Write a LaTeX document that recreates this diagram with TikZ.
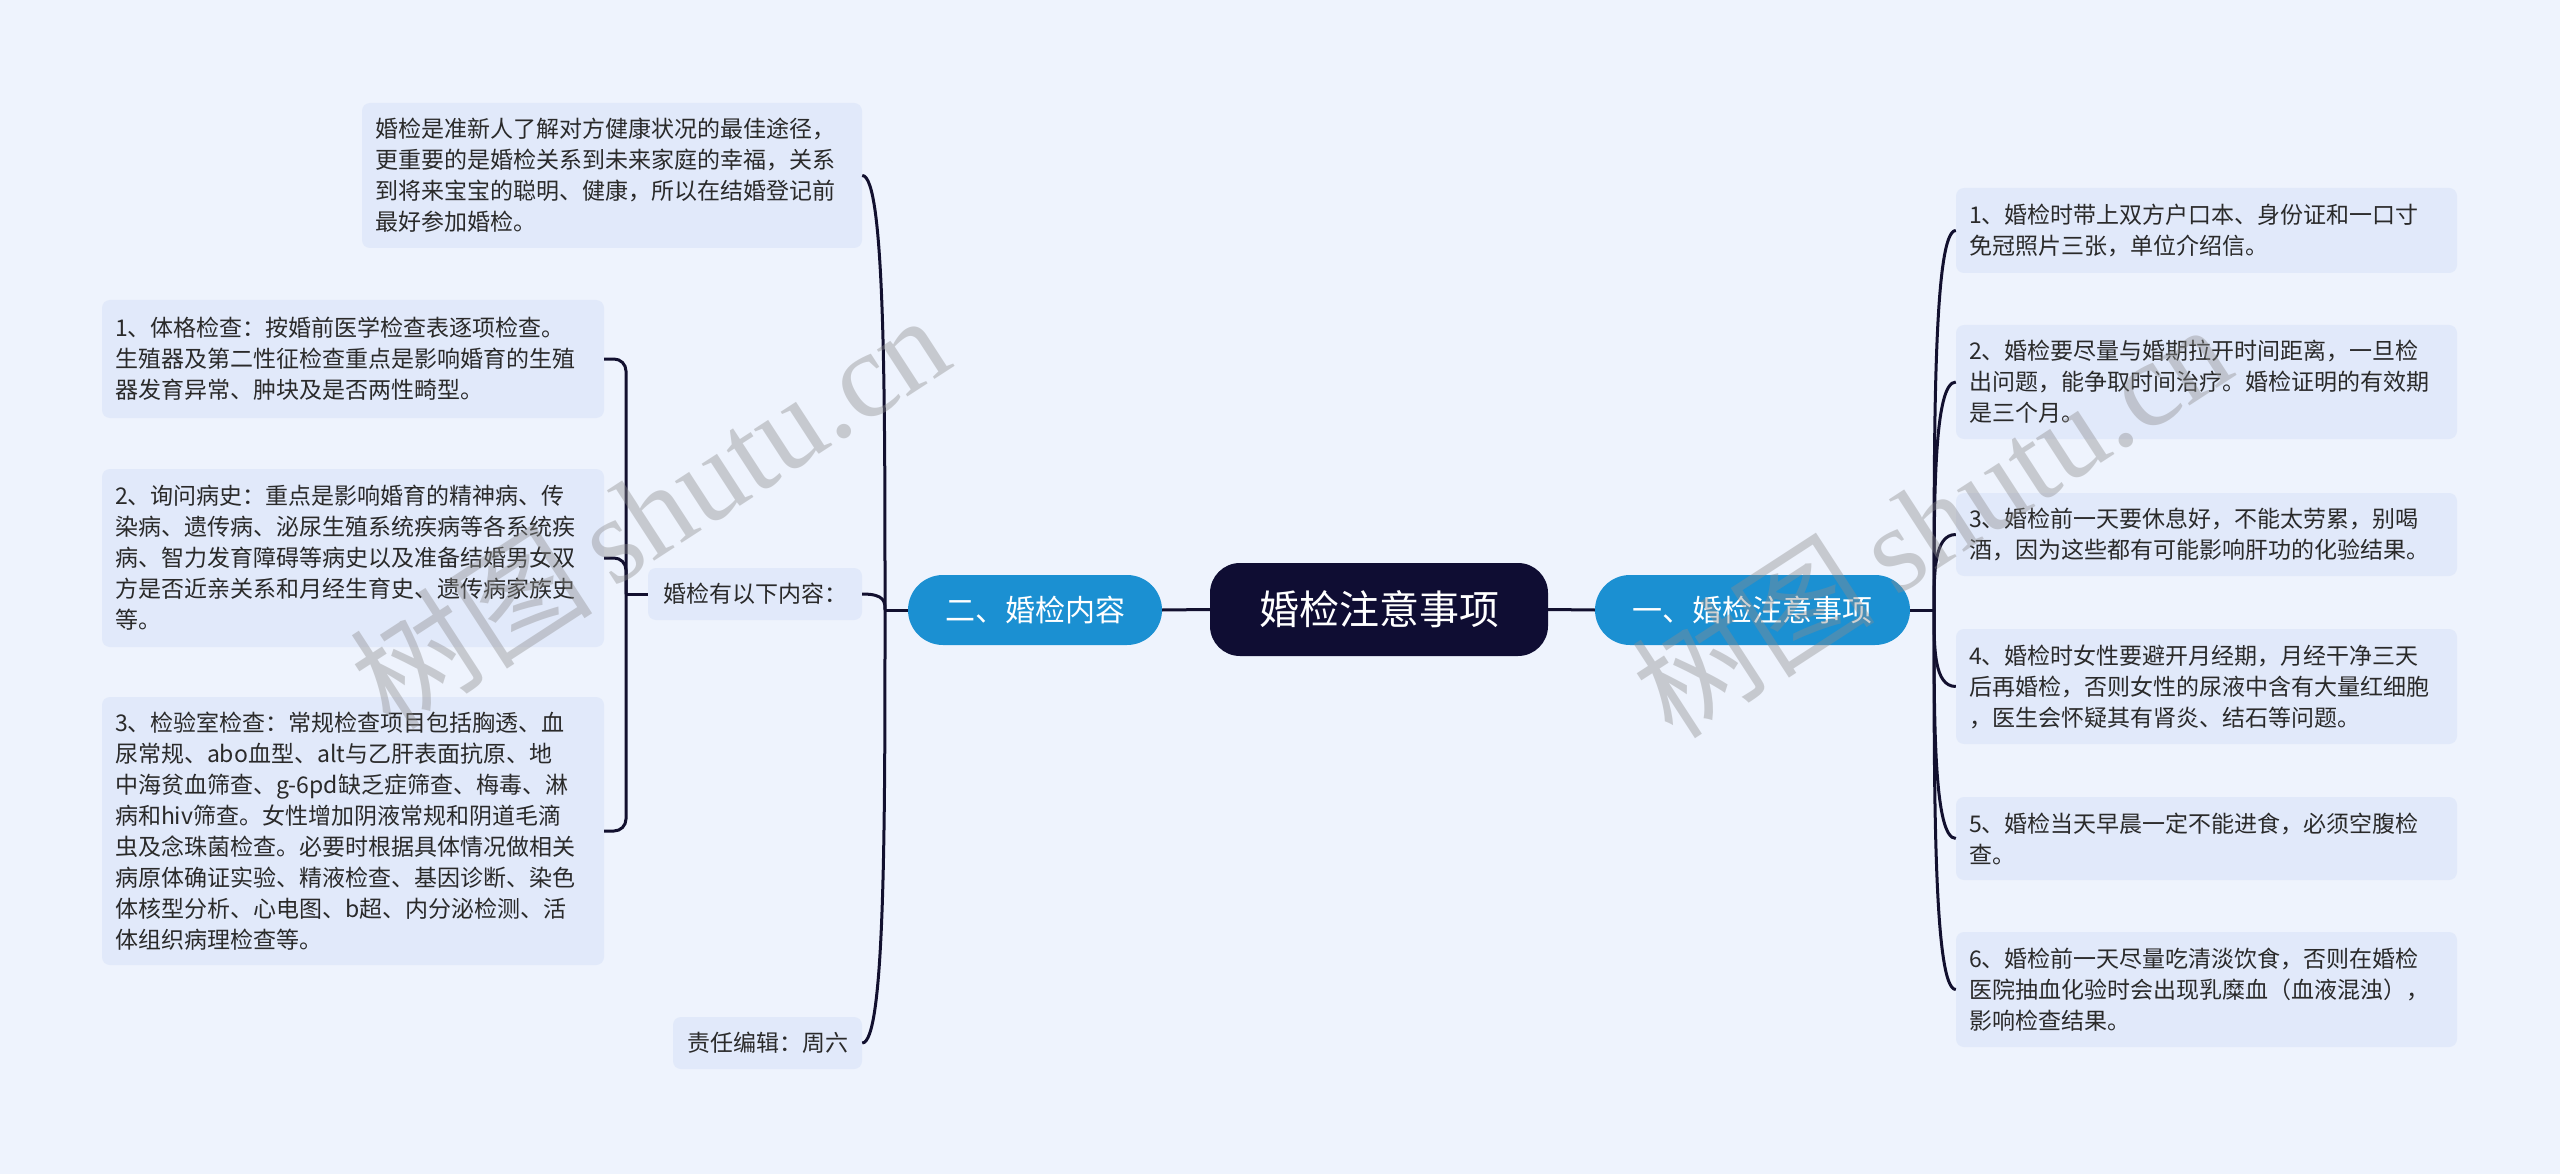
\documentclass[tikz,border=0pt]{standalone}
\usepackage{fontspec}
\setmainfont{Noto Sans CJK SC}
\newfontfamily\wmlatin{Liberation Serif}
\usetikzlibrary{calc}
\definecolor{bgc}{HTML}{EEF3FD}
\definecolor{boxc}{HTML}{E1E9FA}
\definecolor{txtc}{HTML}{2A2A2A}
\definecolor{darkc}{HTML}{0F0D33}
\definecolor{bluec}{HTML}{1B90D2}
\definecolor{linec}{HTML}{12102F}
\definecolor{wmc}{HTML}{8C8C8C}
\tikzset{
  txtbox/.style={fill=boxc, rounded corners=8pt, text=txtc, align=left,
    font=\fontsize{23}{31}\selectfont, inner xsep=13pt, inner ysep=0pt},
  smallbox/.style={fill=boxc, rounded corners=8pt, text=txtc,
    font=\fontsize{23}{31}\selectfont, inner sep=0pt, minimum height=52},
  centralnode/.style={fill=darkc, rounded corners=30pt, text=white,
    font=\fontsize{40}{48}\selectfont, inner sep=0pt, minimum width=338, minimum height=93},
  mainnode/.style={fill=bluec, rounded corners=35pt, text=white,
    font=\fontsize{30}{36}\selectfont, inner sep=0pt, minimum height=70},
  conn/.style={draw=linec, line width=3pt},
  wmark/.style={text=wmc, opacity=0.40, rotate=33, inner sep=0pt}
}
\begin{document}
\begin{tikzpicture}[x=1pt,y=1pt]
\fill[bgc] (0,0) rectangle (2560,-1174);
\useasboundingbox (0,0) rectangle (2560,-1174);

% central and main nodes
\node[centralnode] (c) at (1379,-609.5) {婚检注意事项};
\node[mainnode, minimum width=315] (mR) at (1752.5,-610) {一、婚检注意事项};
\node[mainnode, minimum width=254] (mL) at (1035,-610) {二、婚检内容};
\coordinate (jR) at (1934,-610);
\coordinate (jL) at (885,-610);
\coordinate (jI) at (626,-594);

% left side
\node[txtbox, text width=474, minimum height=145] (top) at (612,-175.5) {婚检是准新人了解对方健康状况的最佳途径，\\更重要的是婚检关系到未来家庭的幸福，关系\\到将来宝宝的聪明、健康，所以在结婚登记前\\最好参加婚检。};
\node[smallbox, minimum width=214] (mid) at (755,-594) {婚检有以下内容：};
\node[smallbox, minimum width=189] (ed) at (767.5,-1043) {责任编辑：周六};
\node[txtbox, text width=476, minimum height=118] (b1) at (353,-359) {1、体格检查：按婚前医学检查表逐项检查。\\生殖器及第二性征检查重点是影响婚育的生殖\\器发育异常、肿块及是否两性畸型。};
\node[txtbox, text width=476, minimum height=178] (b2) at (353,-558) {2、询问病史：重点是影响婚育的精神病、传\\染病、遗传病、泌尿生殖系统疾病等各系统疾\\病、智力发育障碍等病史以及准备结婚男女双\\方是否近亲关系和月经生育史、遗传病家族史\\等。};
\node[txtbox, text width=476, minimum height=268] (b3) at (353,-831) {3、检验室检查：常规检查项目包括胸透、血\\尿常规、abo血型、alt与乙肝表面抗原、地\\中海贫血筛查、g-6pd缺乏症筛查、梅毒、淋\\病和hiv筛查。女性增加阴液常规和阴道毛滴\\虫及念珠菌检查。必要时根据具体情况做相关\\病原体确证实验、精液检查、基因诊断、染色\\体核型分析、心电图、b超、内分泌检测、活\\体组织病理检查等。};

% right side
\node[txtbox, text width=475, minimum height=85] (r1) at (2206.5,-230.5) {1、婚检时带上双方户口本、身份证和一口寸\\免冠照片三张，单位介绍信。};
\node[txtbox, text width=475, minimum height=114] (r2) at (2206.5,-382) {2、婚检要尽量与婚期拉开时间距离，一旦检\\出问题，能争取时间治疗。婚检证明的有效期\\是三个月。};
\node[txtbox, text width=475, minimum height=83] (r3) at (2206.5,-534.5) {3、婚检前一天要休息好，不能太劳累，别喝\\酒，因为这些都有可能影响肝功的化验结果。};
\node[txtbox, text width=475, minimum height=115] (r4) at (2206.5,-686.5) {4、婚检时女性要避开月经期，月经干净三天\\后再婚检，否则女性的尿液中含有大量红细胞\\，医生会怀疑其有肾炎、结石等问题。};
\node[txtbox, text width=475, minimum height=83] (r5) at (2206.5,-838.5) {5、婚检当天早晨一定不能进食，必须空腹检\\查。};
\node[txtbox, text width=475, minimum height=115] (r6) at (2206.5,-989.5) {6、婚检前一天尽量吃清淡饮食，否则在婚检\\医院抽血化验时会出现乳糜血（血液混浊），\\影响检查结果。};

% connectors
\draw[conn] (c.east) -- (mR.west);
\draw[conn] (c.west) -- (mL.east);
\draw[conn] (mR.east) -- (jR);
\draw[conn] (mL.west) -- (jL);
\draw[conn] (mid.west) -- (jI);
\foreach \n in {r1,r2,r3,r4,r5,r6}
  \draw[conn] (jR) .. controls ($(jR)!0.5!(jR|-\n.west)$) and (jR|-\n.west) .. (\n.west);
\foreach \n in {top,mid,ed}
  \draw[conn] (jL) .. controls ($(jL)!0.5!(jL|-\n.east)$) and (jL|-\n.east) .. (\n.east);
\foreach \n in {b1,b2,b3}
  \draw[conn, rounded corners=12pt] (jI) |- (\n.east);

% watermarks
\node[wmark] (w1) at (649,-510) {\fontsize{122}{130}\selectfont 树图\,{\wmlatin shutu.cn}};
\node[wmark] (w2) at (1931,-519) {\fontsize{122}{130}\selectfont 树图\,{\wmlatin shutu.cn}};
\end{tikzpicture}
\end{document}
